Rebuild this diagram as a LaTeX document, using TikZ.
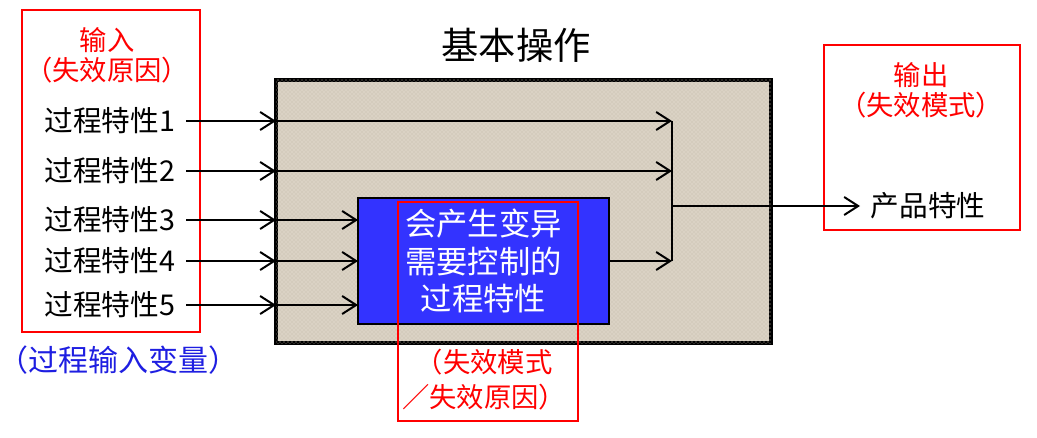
\documentclass[tikz,border=0pt]{standalone}
\usepackage{fontspec}
\setmainfont{Noto Sans CJK SC}
\usetikzlibrary{arrows.meta,patterns}
\definecolor{linen}{RGB}{218,210,196}
\definecolor{linengrain}{RGB}{196,186,170}
\definecolor{coreblue}{RGB}{51,51,255}
\definecolor{varblue}{RGB}{30,30,225}

\begin{document}
\begin{tikzpicture}[x=0.75pt,y=0.75pt,yscale=-1,xscale=1,
  arr/.style={line width=1.5pt,-{Straight Barb[length=10.5pt,width=13.5pt]}},
  flow/.style={line width=1.5pt},
  redbox/.style={draw=red,line width=0.8pt,inner sep=0pt,outer sep=0pt},
  lbl/.style={font=\fontsize{21.5pt}{24pt}\selectfont,inner xsep=8pt,inner ysep=0pt},
  redtxt/.style={text=red,align=center}
]
%set diagram size
\useasboundingbox (0,0) rectangle (1037,438);

%Shape: Rectangle [id:op] 
\node [draw,line width=3.2pt,fill=linen,postaction={pattern=crosshatch dots,pattern color=linengrain},outer sep=0pt,inner sep=0pt,minimum width=371.25pt,minimum height=197.25pt] (op) at (523.5,211.5) {};
%Shape: Rectangle [id:inbox] 
\node [redbox,minimum width=133.5pt,minimum height=241.5pt] (inbox) at (111,171) {};
%Shape: Rectangle [id:outbox] 
\node [redbox,minimum width=147pt,minimum height=138.75pt] (outbox) at (922,137.5) {};

% Text Node
\node [font=\fontsize{28pt}{32pt}\selectfont] (title) at (516,45) {基本操作};
% Text Node
\node [redtxt,font=\fontsize{20.5pt}{22.5pt}\selectfont] (inlbl) at (107,55) {输入\\（失效原因）};
% Text Node
\node [redtxt,font=\fontsize{20.5pt}{22.5pt}\selectfont] (outlbl) at (921,90) {输出\\（失效模式）};
% Text Node
\node [lbl,anchor=east] (p1) at (186,121) {过程特性1};
% Text Node
\node [lbl,anchor=east] (p2) at (186,171) {过程特性2};
% Text Node
\node [lbl,anchor=east] (p3) at (186,220) {过程特性3};
% Text Node
\node [lbl,anchor=east] (p4) at (186,261) {过程特性4};
% Text Node
\node [lbl,anchor=east] (p5) at (186,305) {过程特性5};
% Text Node
\node [lbl,anchor=west] (prod) at (860,206) {产品特性};
% Text Node
\node [text=varblue,inner sep=0pt,font=\fontsize{22.5pt}{26pt}\selectfont] (pvar) at (118,360) {（过程输入变量）};

%Shape: Rectangle [id:core] 
\node [draw,line width=1.8pt,fill=coreblue,text=white,outer sep=0pt,align=center,minimum width=188.25pt,minimum height=94.5pt,font=\fontsize{23.5pt}{28pt}\selectfont] (core) at (483.5,261) {会产生变异\\需要控制的\\过程特性};
%Shape: Rectangle [id:fmbox] 
\node [redbox,minimum width=135pt,minimum height=164.25pt] (fmbox) at (488,311.5) {};
% Text Node
\node [redtxt,font=\fontsize{20.5pt}{26.25pt}\selectfont] (fmlbl) at (484,380) {（失效模式\\／失效原因）};

\coordinate (merge) at (672,206);

%Straight Lines [id:in1] 
\draw [arr] (p1.east) -- (p1.east -| op.west);
\draw [arr] (p1.east -| op.west) -- (p1.east -| merge);
%Straight Lines [id:in2] 
\draw [arr] (p2.east) -- (p2.east -| op.west);
\draw [arr] (p2.east -| op.west) -- (p2.east -| merge);
%Straight Lines [id:in3] 
\draw [arr] (p3.east) -- (p3.east -| op.west);
\draw [arr] (p3.east -| op.west) -- (p3.east -| core.west);
%Straight Lines [id:in4] 
\draw [arr] (p4.east) -- (p4.east -| op.west);
\draw [arr] (p4.east -| op.west) -- (p4.east -| core.west);
%Straight Lines [id:in5] 
\draw [arr] (p5.east) -- (p5.east -| op.west);
\draw [arr] (p5.east -| op.west) -- (p5.east -| core.west);
%Straight Lines [id:join] 
\draw [flow] (p1.east -| merge) -- (core.east -| merge);
\draw [arr] (core.east) -- (core.east -| merge);
%Straight Lines [id:out] 
\draw [arr] (merge) -- (prod.west);

\end{tikzpicture}
\end{document}
